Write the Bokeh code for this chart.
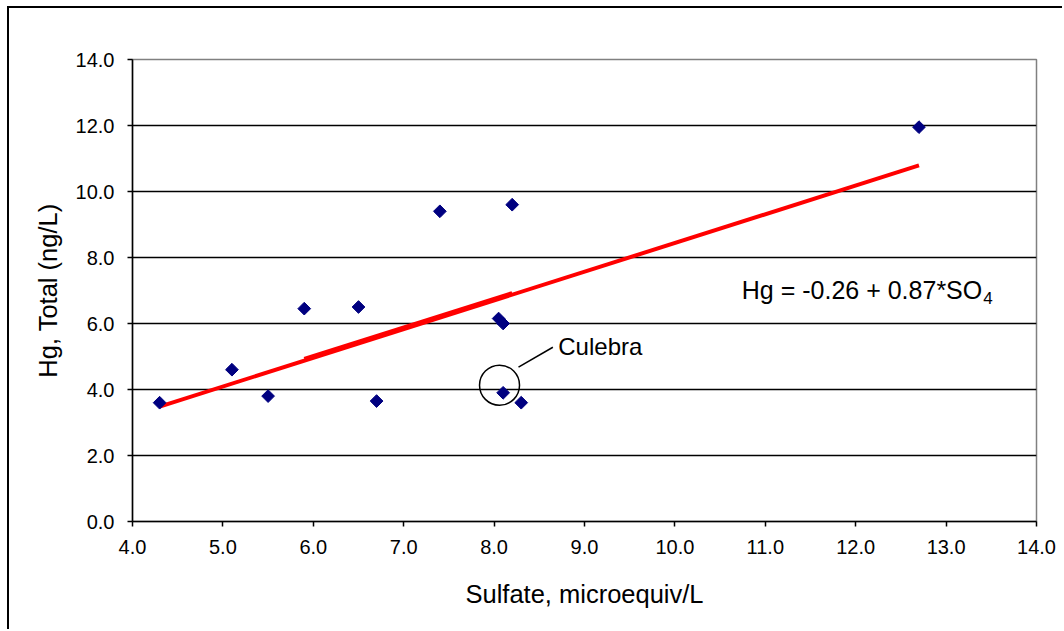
import numpy as np
from bokeh.plotting import figure
from bokeh.models import FixedTicker, NumeralTickFormatter, Range1d
from bokeh.core.properties import value
from bokeh.embed import file_html
from bokeh.resources import INLINE

# ---- data ----
sulfate = [4.3, 5.1, 5.5, 5.9, 6.5, 6.7, 7.4, 8.2, 8.05, 8.1, 8.1, 8.3, 12.7]
hg_total = [3.6, 4.6, 3.8, 6.45, 6.5, 3.65, 9.4, 9.6, 6.15, 6.0, 3.9, 3.6, 11.95]

fit_intercept = -0.26
fit_slope = 0.87
fit_x = [4.3, 12.7]
fit_y = [fit_intercept + fit_slope * v for v in fit_x]

subset_fit_x = [5.9, 8.2]
subset_fit_y = [4.93, 6.92]

culebra_x = [8.06]
culebra_y = [4.13]
leader_x = [8.27, 8.65]
leader_y = [4.68, 5.28]
culebra_label_x = [8.71]
culebra_label_y = [5.31]

eq_text = ["Hg = -0.26 + 0.87*SO"]
eq_x = [10.74]
eq_y = [7.01]
eq_sub_text = ["4"]
eq_sub_x = [13.41]
eq_sub_y = [6.78]

x_ticks = [4, 5, 6, 7, 8, 9, 10, 11, 12, 13, 14]
y_ticks = [0, 2, 4, 6, 8, 10, 12, 14]
y_grid = [2, 4, 6, 8, 10, 12]

FONT = "Liberation Sans"

p = figure(width=1055, height=623, output_backend="svg", toolbar_location=None,
           x_range=Range1d(4, 14), y_range=Range1d(0, 14),
           min_border_left=123, min_border_right=28, min_border_top=51, min_border_bottom=110,
           background_fill_color="white", border_fill_color="white")
p.styles = {"border-left": "2px solid black", "border-top": "2px solid black",
            "margin-left": "7px", "margin-top": "6px"}

p.outline_line_color = "#808080"
p.outline_line_width = 1.5

p.xgrid.visible = False
p.ygrid.ticker = FixedTicker(ticks=y_grid)
p.ygrid.grid_line_color = "black"
p.ygrid.grid_line_width = 1.5

for ax in (p.xaxis[0], p.yaxis[0]):
    ax.axis_line_color = "black"
    ax.axis_line_width = 1.5
    ax.major_tick_line_color = "black"
    ax.major_tick_line_width = 1.5
    ax.major_tick_out = 5
    ax.major_tick_in = 0
    ax.minor_tick_line_color = None
    ax.major_label_text_font = FONT
    ax.major_label_text_font_size = "20px"
    ax.major_label_text_color = "black"
    ax.axis_label_text_font = FONT
    ax.axis_label_text_font_size = "25.5px"
    ax.axis_label_text_font_style = "normal"
    ax.axis_label_text_color = "black"
    ax.formatter = NumeralTickFormatter(format="0.0")

p.xaxis[0].ticker = FixedTicker(ticks=x_ticks)
p.yaxis[0].ticker = FixedTicker(ticks=y_ticks)
p.xaxis[0].axis_label = "Sulfate, microequiv/L"
p.yaxis[0].axis_label = "Hg, Total (ng/L)"
p.xaxis[0].major_label_standoff = 13
p.yaxis[0].major_label_standoff = 13
p.xaxis[0].axis_label_standoff = 23
p.yaxis[0].axis_label_standoff = 11

# regression lines
p.line(fit_x, fit_y, line_color="#ff0000", line_width=4)
p.line(subset_fit_x, subset_fit_y, line_color="#ff0000", line_width=4)

# data points
p.scatter(sulfate, hg_total, marker="square", angle=np.pi / 4, size=9,
          fill_color="#000080", line_color="#000080", line_width=1)

# Culebra annotation
p.scatter(culebra_x, culebra_y, marker="circle", size=40, fill_color=None,
          line_color="black", line_width=1.5)
p.line(leader_x, leader_y, line_color="black", line_width=1.5)
p.text(culebra_label_x, culebra_label_y, text=["Culebra"], text_font=value(FONT),
       text_font_size="24px", text_baseline="middle", text_align="left", text_color="black")

# equation
p.text(eq_x, eq_y, text=eq_text, text_font=value(FONT), text_font_size="25px",
       text_baseline="middle", text_align="left", text_color="black")
p.text(eq_sub_x, eq_sub_y, text=eq_sub_text, text_font=value(FONT), text_font_size="17px",
       text_baseline="middle", text_align="left", text_color="black")

open("out.html", "w").write(file_html(p, INLINE))
